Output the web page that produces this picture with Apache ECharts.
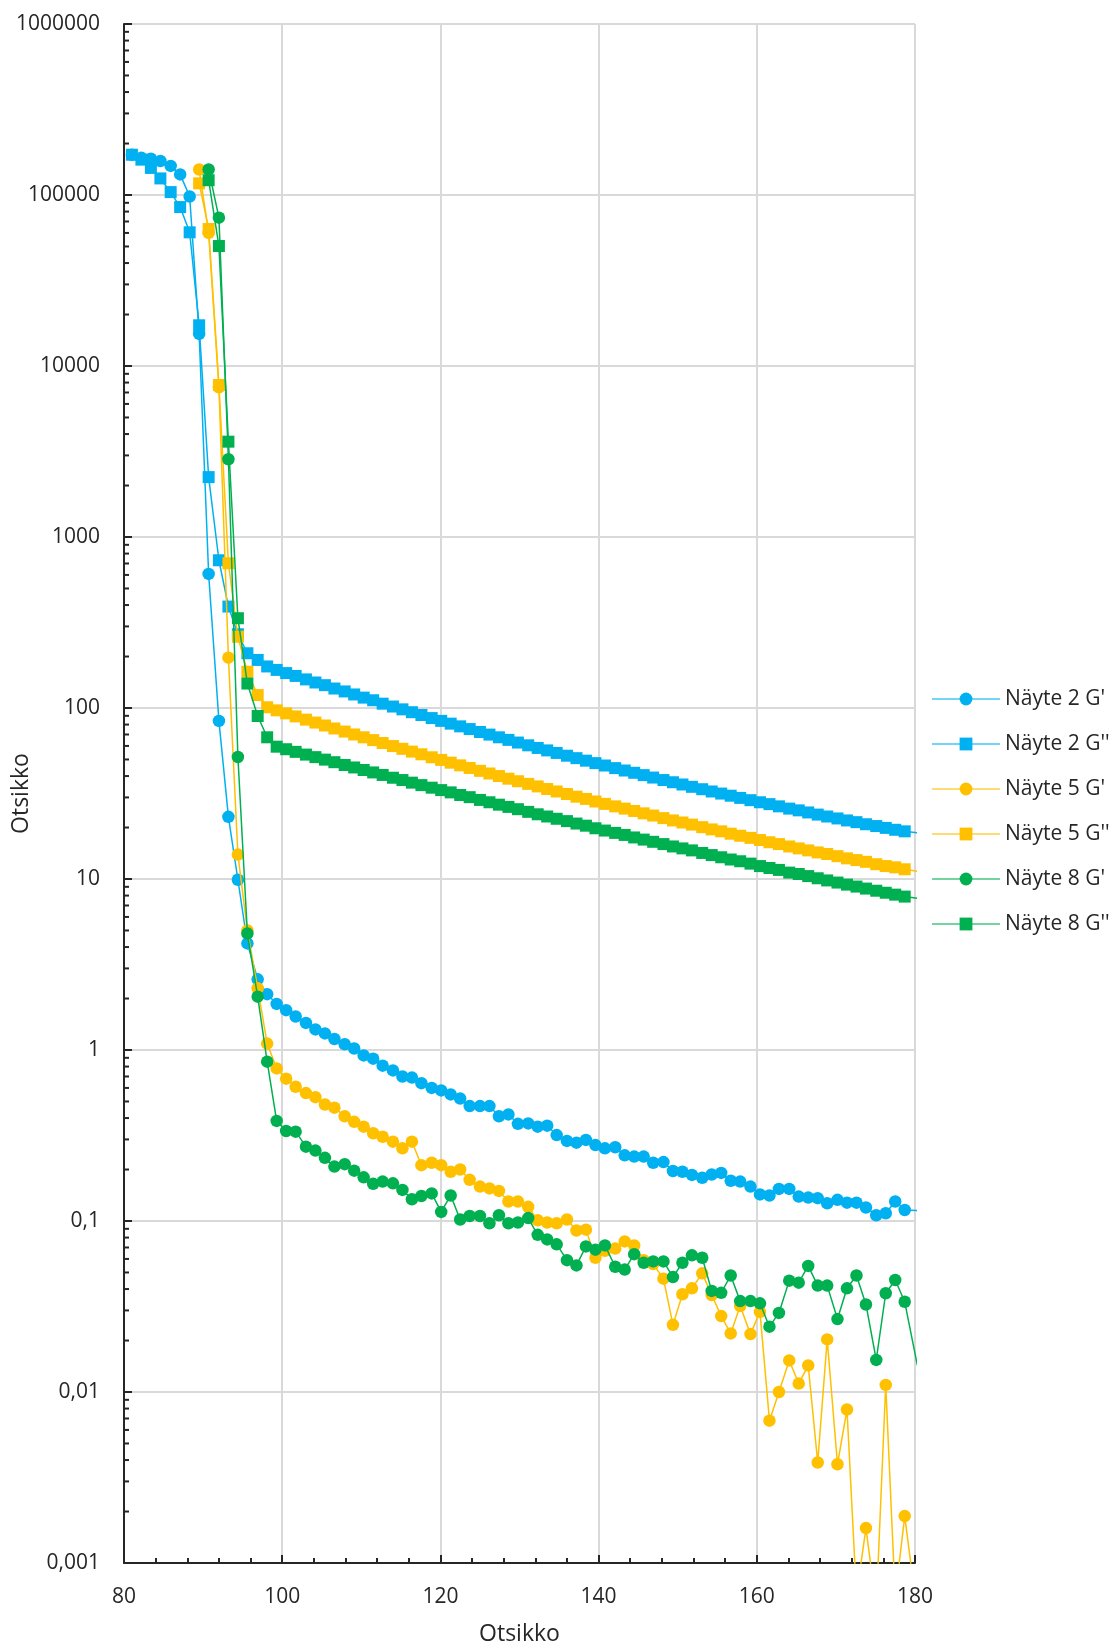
<!DOCTYPE html>
<html>
<head>
<meta charset="utf-8">
<title>Näyte G' / G''</title>
<script src="https://cdn.jsdelivr.net/npm/echarts@6/dist/echarts.min.js"></script>
<style>
  html, body { margin: 0; padding: 0; background: #ffffff; }
  #chart { width: 1109px; height: 1648px; }
</style>
</head>
<body>
<div id="chart"></div>
<script>
// Temperature sweep shared by all samples (last reading lies just past 180)
const temperature = [
  81.0, 82.2, 83.4, 84.6, 85.9, 87.1, 88.3, 89.5, 90.7, 92.0,
  93.2, 94.4, 95.6, 96.9, 98.1, 99.3, 100.5, 101.7, 103.0, 104.2,
  105.4, 106.6, 107.9, 109.1, 110.3, 111.5, 112.7, 114.0, 115.2, 116.4,
  117.6, 118.9, 120.1, 121.3, 122.5, 123.7, 125.0, 126.2, 127.4, 128.6,
  129.8, 131.1, 132.3, 133.5, 134.7, 136.0, 137.2, 138.4, 139.6, 140.8,
  142.1, 143.3, 144.5, 145.7, 146.9, 148.2, 149.4, 150.6, 151.8, 153.1,
  154.3, 155.5, 156.7, 157.9, 159.2, 160.4, 161.6, 162.8, 164.1, 165.3,
  166.5, 167.7, 168.9, 170.2, 171.4, 172.6, 173.8, 175.1, 176.3, 177.5,
  178.7, 180.3
];

// Näyte 2
const nayte2Gp = [
  172000, 165000, 163000, 158000, 148000, 132000, 98000, 15400, 608, 84,
  23.1, 9.9, 4.2, 2.59, 2.12, 1.86, 1.71, 1.57, 1.44, 1.32,
  1.25, 1.16, 1.08, 1.02, 0.93, 0.89, 0.81, 0.76, 0.70, 0.69,
  0.64, 0.60, 0.58, 0.55, 0.52, 0.47, 0.47, 0.47, 0.41, 0.42,
  0.37, 0.372, 0.356, 0.361, 0.318, 0.294, 0.287, 0.298, 0.278, 0.266,
  0.270, 0.242, 0.238, 0.238, 0.219, 0.221, 0.196, 0.194, 0.186, 0.179,
  0.187, 0.191, 0.172, 0.170, 0.159, 0.143, 0.141, 0.154, 0.154, 0.139,
  0.137, 0.136, 0.127, 0.133, 0.128, 0.128, 0.120, 0.108, 0.111, 0.130,
  0.116, 0.115
];
const nayte2Gpp = [
  172000, 161000, 144000, 125000, 104000, 85000, 60500, 17300, 2240, 731,
  392, 270, 209, 191, 175, 167, 160, 154, 147, 141,
  136, 130, 125, 120, 115, 111, 106, 102, 98.2, 94.5,
  91.0, 87.3, 84.1, 81.0, 78.1, 75.3, 72.4, 69.9, 67.4, 65.1,
  62.8, 60.5, 58.4, 56.5, 54.6, 52.6, 50.9, 49.2, 47.6, 46.1,
  44.5, 43.1, 41.8, 40.5, 39.2, 37.9, 36.8, 35.7, 34.6, 33.5,
  32.5, 31.6, 30.7, 29.8, 28.9, 28.1, 27.4, 26.6, 25.8, 25.2,
  24.5, 23.8, 23.2, 22.6, 22.0, 21.5, 20.9, 20.4, 19.9, 19.4,
  19.0, 18.6
];

// Näyte 5
const nayte5Gp = [
  null, null, null, null, null, null, null, 141000, 60000, 7500,
  197, 13.9, 5.0, 2.30, 1.09, 0.78, 0.68, 0.61, 0.56, 0.53,
  0.48, 0.46, 0.41, 0.38, 0.356, 0.326, 0.311, 0.291, 0.266, 0.291,
  0.212, 0.219, 0.212, 0.194, 0.200, 0.174, 0.159, 0.155, 0.150, 0.130,
  0.130, 0.121, 0.101, 0.098, 0.097, 0.102, 0.088, 0.089, 0.061, 0.067,
  0.069, 0.076, 0.072, 0.059, 0.056, 0.046, 0.0247, 0.0373, 0.0404, 0.0494,
  0.0369, 0.0278, 0.0220, 0.0318, 0.0218, 0.0294, 0.0068, 0.0100, 0.0153, 0.0112,
  0.0143, 0.00387, 0.0203, 0.00378, 0.0079, 0.00065, 0.0016, 0.00055, 0.0110, 0.00063,
  0.00188, 0.0005
];
const nayte5Gpp = [
  null, null, null, null, null, null, null, 117000, 63300, 7740,
  702, 261, 163, 119, 101, 96.9, 93.0, 89.3, 85.5, 82.2,
  79.0, 75.9, 72.8, 70.0, 67.4, 64.9, 62.4, 59.9, 57.7, 55.6,
  53.6, 51.5, 49.7, 47.9, 46.2, 44.6, 42.9, 41.4, 40.0, 38.6,
  37.3, 36.0, 34.8, 33.6, 32.5, 31.4, 30.3, 29.4, 28.4, 27.5,
  26.6, 25.8, 25.0, 24.2, 23.5, 22.7, 22.0, 21.4, 20.8, 20.1,
  19.5, 19.0, 18.4, 17.9, 17.4, 16.9, 16.4, 16.0, 15.5, 15.1,
  14.7, 14.3, 14.0, 13.6, 13.2, 12.9, 12.6, 12.2, 11.9, 11.7,
  11.4, 11.1
];

// Näyte 8
const nayte8Gp = [
  null, null, null, null, null, null, null, null, 141000, 73700,
  2850, 51.7, 4.8, 2.05, 0.855, 0.385, 0.336, 0.333, 0.272, 0.258,
  0.234, 0.208, 0.215, 0.197, 0.180, 0.165, 0.170, 0.166, 0.152, 0.134,
  0.140, 0.145, 0.113, 0.141, 0.102, 0.107, 0.107, 0.097, 0.108, 0.097,
  0.098, 0.104, 0.083, 0.078, 0.073, 0.059, 0.055, 0.071, 0.068, 0.072,
  0.054, 0.052, 0.064, 0.057, 0.058, 0.058, 0.047, 0.057, 0.063, 0.061,
  0.039, 0.038, 0.048, 0.034, 0.034, 0.033, 0.0241, 0.029, 0.0448, 0.0436,
  0.0546, 0.0419, 0.0419, 0.0267, 0.0404, 0.048, 0.0325, 0.0154, 0.0378, 0.0452,
  0.0337, 0.0143
];
const nayte8Gpp = [
  null, null, null, null, null, null, null, null, 122000, 50300,
  3610, 335, 139, 89.8, 67.4, 59.4, 57.4, 55.4, 53.4, 51.6,
  49.9, 48.2, 46.4, 44.9, 43.4, 42.0, 40.6, 39.1, 37.9, 36.6,
  35.4, 34.2, 33.1, 32.1, 31.0, 30.1, 29.0, 28.1, 27.2, 26.4,
  25.6, 24.7, 23.9, 23.2, 22.5, 21.8, 21.1, 20.5, 19.8, 19.2,
  18.6, 18.1, 17.5, 17.0, 16.5, 16.0, 15.5, 15.1, 14.7, 14.2,
  13.8, 13.4, 13.0, 12.7, 12.3, 11.9, 11.6, 11.3, 10.9, 10.7,
  10.4, 10.1, 9.81, 9.53, 9.27, 9.03, 8.79, 8.54, 8.31, 8.10,
  7.89, 7.7
];

const seriesNames = ["Näyte 2 G'", "Näyte 2 G''", "Näyte 5 G'", "Näyte 5 G''", "Näyte 8 G'", "Näyte 8 G''"];
const seriesValues = [nayte2Gp, nayte2Gpp, nayte5Gp, nayte5Gpp, nayte8Gp, nayte8Gpp];

// Decade labels of the logarithmic value axis, from 10^-3 up to 10^6
const yTickLabels = ['0,001', '0,01', '0,1', '1', '10', '100', '1000', '10000', '100000', '1000000'];
const yMinExp = -3;
const yMaxExp = 6;
const xTickLabels = ['80', '100', '120', '140', '160', '180'];

const colors = ['#00B0F0', '#00B0F0', '#FFC000', '#FFC000', '#00B050', '#00B050'];
const symbols = ['circle', 'rect', 'circle', 'rect', 'circle', 'rect'];
const symbolSizes = [12.5, 12, 12.5, 12, 12.5, 12];
const FONT = 'Open Sans';
const TEXT = '#262626';

// Pair every reading with its temperature, skipping the ones a sample does not have
function pairs(values) {
  const out = [];
  values.forEach((v, i) => { if (v !== null) out.push([temperature[i], v]); });
  return out;
}

// Log minor tick positions: 2..9 within every decade
const minorTickData = [];
for (let e = yMinExp; e < yMaxExp; e++) {
  for (let m = 2; m <= 9; m++) minorTickData.push([80, m * Math.pow(10, e)]);
}

const chart = echarts.init(document.getElementById('chart'), null, { renderer: 'canvas' });

const lineSeries = seriesNames.map((name, k) => ({
  name: name,
  type: 'line',
  data: pairs(seriesValues[k]),
  symbol: symbols[k],
  symbolSize: symbolSizes[k],
  showSymbol: true,
  clip: true,
  lineStyle: { color: colors[k], width: 1.5 },
  itemStyle: { color: colors[k], borderWidth: 0 },
  emphasis: { disabled: true },
  z: 3 + k
}));

const option = {
  animation: false,
  backgroundColor: '#ffffff',
  textStyle: { fontFamily: FONT, color: TEXT },
  grid: {
    left: 124, top: 24, width: 791, height: 1539,
    containLabel: false,
    outerBoundsMode: 'none'
  },
  legend: {
    orient: 'vertical',
    left: 926,
    top: 682,
    data: seriesNames,
    itemWidth: 68,
    itemHeight: 16,
    itemGap: 21,
    lineStyle: { width: 2, opacity: 0.55 },
    textStyle: { fontFamily: FONT, fontSize: 21, color: TEXT, lineHeight: 24 },
    selectedMode: false
  },
  xAxis: {
    type: 'value',
    min: 80,
    max: 180,
    interval: 20,
    name: 'Otsikko',
    nameLocation: 'middle',
    nameGap: 60,
    nameMoveOverlap: false,
    nameTextStyle: { fontFamily: FONT, fontSize: 23, color: TEXT },
    axisLine: { show: true, onZero: false, lineStyle: { color: TEXT, width: 2 } },
    axisTick: { show: true, inside: true, length: 8, lineStyle: { color: TEXT, width: 2 } },
    minorTick: { show: true, splitNumber: 5, length: 5, lineStyle: { color: TEXT, width: 2 } },
    axisLabel: {
      fontFamily: FONT, fontSize: 21, color: TEXT, margin: 24,
      formatter: v => xTickLabels[Math.round((v - 80) / 20)]
    },
    splitLine: { show: true, lineStyle: { color: '#D9D9D9', width: 2 } }
  },
  yAxis: {
    type: 'log',
    logBase: 10,
    min: Math.pow(10, yMinExp),
    max: Math.pow(10, yMaxExp),
    splitNumber: 9,
    name: 'Otsikko',
    nameLocation: 'middle',
    nameGap: 91,
    nameRotate: 90,
    nameMoveOverlap: false,
    nameTextStyle: { fontFamily: FONT, fontSize: 23, color: TEXT },
    axisLine: { show: true, onZero: false, lineStyle: { color: TEXT, width: 2 } },
    axisTick: { show: true, inside: true, length: 8, lineStyle: { color: TEXT, width: 2 } },
    axisLabel: {
      fontFamily: FONT, fontSize: 21, color: TEXT, margin: 24,
      formatter: v => yTickLabels[Math.round(Math.log10(v)) - yMinExp]
    },
    splitLine: { show: true, lineStyle: { color: '#D9D9D9', width: 2 } }
  },
  series: lineSeries.concat([{
    type: 'custom',
    name: 'minor ticks',
    silent: true,
    clip: false,
    z: 20,
    data: minorTickData,
    encode: { x: 0, y: 1 },
    renderItem: (params, api) => {
      const p = api.coord([api.value(0), api.value(1)]);
      return {
        type: 'line',
        shape: { x1: p[0], y1: p[1], x2: p[0] + 5, y2: p[1] },
        style: { stroke: TEXT, lineWidth: 2 }
      };
    }
  }])
};

chart.setOption(option);
</script>
</body>
</html>
